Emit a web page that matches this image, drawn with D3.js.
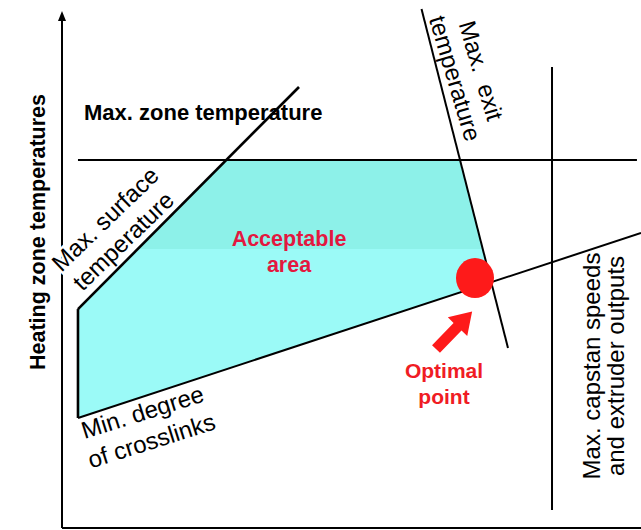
<!DOCTYPE html>
<html>
<head>
<meta charset="utf-8">
<script src="https://cdn.jsdelivr.net/npm/d3@7"></script>
<style>
  body { margin: 0; background: #fff; }
  svg { display: block; font-family: "Liberation Sans", Arial, sans-serif; }
  .line { stroke: #000; stroke-width: 2; fill: none; }
  .thick { stroke-width: 2.6; }
  .bold { font-weight: bold; }
</style>
</head>
<body>
<svg></svg>
<script>
// constraint lines, in arbitrary units (0..100 on both axes)
var zoneTemp = [[2.76, 71.46], [99.3, 71.46]];
var surfaceTemp = [[3.11, 42.91], [40.93, 85.63]];
var exitTemp = [[62.09, 100.78], [77.03, 34.95]];
var crosslinks = [[2.76, 21.36], [100, 57.28]];
var capstan = [[84.63, 89.51], [84.63, 3.5]];
var leftBound = 2.76;
var optimum = [71.33, 48.54];
var shadeSplit = 54.17;

var width = 641, height = 530;
var svg = d3.select("svg").attr("width", width).attr("height", height);

var x = d3.scaleLinear().domain([0, 100]).range([62, 641]);
var y = d3.scaleLinear().domain([0, 100]).range([528, 13]);

function at(l, xv) {
  var s = (l[1][1] - l[0][1]) / (l[1][0] - l[0][0]);
  return l[0][1] + s * (xv - l[0][0]);
}
function cross(a, b) {
  var x1 = a[0][0], y1 = a[0][1], x2 = a[1][0], y2 = a[1][1];
  var x3 = b[0][0], y3 = b[0][1], x4 = b[1][0], y4 = b[1][1];
  var den = (x1 - x2) * (y3 - y4) - (y1 - y2) * (x3 - x4);
  var t = ((x1 - x3) * (y3 - y4) - (y1 - y3) * (x3 - x4)) / den;
  return [x1 + t * (x2 - x1), y1 + t * (y2 - y1)];
}

var area = [
  [leftBound, at(surfaceTemp, leftBound)],
  cross(surfaceTemp, zoneTemp),
  cross(exitTemp, zoneTemp),
  cross(exitTemp, crosslinks),
  [leftBound, at(crosslinks, leftBound)]
];

var line = d3.line().x(d => x(d[0])).y(d => y(d[1]));

// two tone fill
var grad = svg.append("defs").append("linearGradient")
  .attr("id", "fill").attr("gradientUnits", "userSpaceOnUse")
  .attr("x1", 0).attr("x2", 0).attr("y1", y(zoneTemp[0][1])).attr("y2", y(crosslinks[0][1]));
var f = (y(shadeSplit) - y(zoneTemp[0][1])) / (y(crosslinks[0][1]) - y(zoneTemp[0][1]));
grad.append("stop").attr("offset", 0).attr("stop-color", "#8df1e9");
grad.append("stop").attr("offset", f).attr("stop-color", "#8df1e9");
grad.append("stop").attr("offset", f).attr("stop-color", "#9bfaf7");
grad.append("stop").attr("offset", 1).attr("stop-color", "#9bfaf7");

svg.append("path").attr("d", line(area) + "Z").attr("fill", "url(#fill)");

// axes
svg.append("line").attr("class", "line")
  .attr("x1", x(0)).attr("y1", y(0)).attr("x2", x(0)).attr("y2", y(100) + 4);
svg.append("path").attr("d", "M" + x(0) + "," + (y(100) - 2) + "l-4,10h8z").attr("fill", "#000");
svg.append("line").attr("class", "line")
  .attr("x1", x(0)).attr("y1", y(0)).attr("x2", x(100)).attr("y2", y(0));

// constraint lines
[zoneTemp, exitTemp, crosslinks, capstan].forEach(l => {
  svg.append("path").attr("class", "line").attr("d", line(l));
});
svg.append("path").attr("class", "line thick").attr("d", line([area[0], surfaceTemp[1]]));
svg.append("path").attr("class", "line thick").attr("d", line([area[0], area[4]]));

// optimal point and arrow
svg.append("ellipse").attr("cx", x(optimum[0])).attr("cy", y(optimum[1]))
  .attr("rx", 19).attr("ry", 20).attr("fill", "#fe1a1a");
svg.append("path")
  .attr("d", "M0,-5.5L31,-5.5L31,-13.5L52,0L31,13.5L31,5.5L0,5.5Z")
  .attr("fill", "#fe1a1a")
  .attr("transform", "translate(436,349) rotate(-46)");

// labels
function label(tx, lines, opts) {
  var t = svg.append("text")
    .attr("transform", tx)
    .attr("text-anchor", opts.anchor || "middle")
    .attr("font-size", opts.size)
    .attr("fill", opts.color || "#000")
    .attr("class", opts.bold ? "bold" : null);
  lines.forEach((s, i) => {
    t.append("tspan").attr("x", 0).attr("y", i * opts.lh).text(s);
  });
  return t;
}

label("translate(84,120)", ["Max. zone temperature"], { size: 22, bold: true, anchor: "start" });
label("translate(45,232) rotate(-90)", ["Heating zone temperatures"], { size: 21.5, bold: true });
label("translate(289,246)", ["Acceptable", "area"], { size: 21.5, bold: true, lh: 26, color: "#e3173f" });
label("translate(444,378)", ["Optimal", "point"], { size: 21, bold: true, lh: 26, color: "#f01c24" });

label("translate(111,225) rotate(-44)", ["Max. surface"], { size: 24, lh: 26 })
  .attr("stroke", "#fff").attr("stroke-width", 5).attr("paint-order", "stroke");
label("translate(129,247) rotate(-44)", ["temperature"], { size: 24, lh: 26 });
label("translate(473,73) rotate(73.5)", ["Max.  exit", "temperature"], { size: 24, lh: 27 })
  .style("white-space", "pre");
label("translate(600,366) rotate(-90)", ["Max. capstan speeds", "and extruder outputs"], { size: 24, lh: 24 });
label("translate(145,420) rotate(-17.5)", ["Min. degree", "of crosslinks"], { size: 24, lh: 30 });
</script>
</body>
</html>
